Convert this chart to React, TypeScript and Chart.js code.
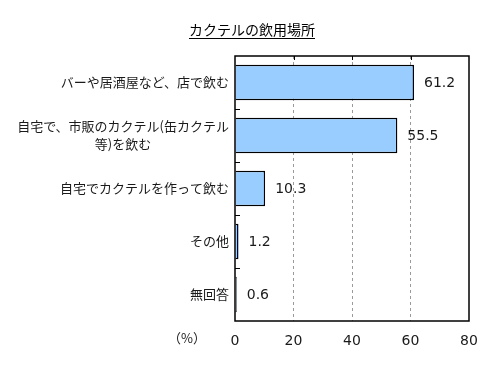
import React, { useEffect, useRef } from "react";
import { Chart, registerables } from "chart.js";

Chart.register(...registerables);

const TITLE = "カクテルの飲用場所";
const CATEGORIES: string[][] = [
  ["バーや居酒屋など、店で飲む"],
  ["自宅で、市販のカクテル(缶カクテル", "等)を飲む"],
  ["自宅でカクテルを作って飲む"],
  ["その他"],
  ["無回答"],
];
const VALUES = [61.2, 55.5, 10.3, 1.2, 0.6];
const VALUE_LABELS = ["61.2", "55.5", "10.3", "1.2", "0.6"];
const X_MIN = 0;
const X_MAX = 80;
const X_STEP = 20;
const UNIT_LABEL = "（%）";

const JP = '"Noto Sans CJK JP", sans-serif';
const NUM = '"DejaVu Sans", Verdana, sans-serif';

const decorPlugin = {
  id: "decor",
  afterDraw(chart: any) {
    const { ctx, chartArea: a, scales } = chart;
    const x = scales.x;
    const y = scales.y;
    ctx.save();

    // frame
    ctx.strokeStyle = "#000";
    ctx.lineWidth = 1.5;
    ctx.strokeRect(a.left, a.top, a.right - a.left, a.bottom - a.top);

    // inner top tick marks
    ctx.lineWidth = 1;
    for (let v = X_MIN + X_STEP; v < X_MAX; v += X_STEP) {
      const px = Math.round(x.getPixelForValue(v)) + 0.5;
      ctx.beginPath();
      ctx.moveTo(px, a.top);
      ctx.lineTo(px, a.top + 4);
      ctx.stroke();
    }
    // inner left tick marks between categories
    for (let i = 0; i < CATEGORIES.length - 1; i++) {
      const py = Math.round((y.getPixelForValue(i) + y.getPixelForValue(i + 1)) / 2) + 0.5;
      ctx.beginPath();
      ctx.moveTo(a.left, py);
      ctx.lineTo(a.left + 5, py);
      ctx.stroke();
    }

    // category labels
    ctx.font = `13px ${JP}`;
    ctx.fillStyle = "#1a1a1a";
    ctx.textBaseline = "middle";
    ctx.textAlign = "center";
    const right = a.left - 6;
    const lh = 18;
    CATEGORIES.forEach((lines, i) => {
      const cy = y.getPixelForValue(i);
      const w = Math.max(...lines.map((l) => ctx.measureText(l).width));
      const cx = right - w / 2;
      lines.forEach((l, j) => {
        ctx.fillText(l, cx, cy + (j - (lines.length - 1) / 2) * lh);
      });
    });

    // value labels
    ctx.font = `14px ${NUM}`;
    ctx.textAlign = "left";
    VALUES.forEach((v, i) => {
      ctx.fillText(VALUE_LABELS[i], x.getPixelForValue(v) + 10, y.getPixelForValue(i) + 1);
    });

    // unit label
    ctx.font = `13px ${JP}`;
    ctx.textAlign = "center";
    ctx.fillText(UNIT_LABEL, 187, 338);

    // title with underline
    ctx.font = `14px ${JP}`;
    ctx.fillStyle = "#000";
    ctx.textAlign = "center";
    const tx = 252;
    const ty = 30;
    ctx.fillText(TITLE, tx, ty);
    const tw = ctx.measureText(TITLE).width;
    ctx.beginPath();
    ctx.lineWidth = 1;
    ctx.moveTo(tx - tw / 2, 38.5);
    ctx.lineTo(tx + tw / 2, 38.5);
    ctx.stroke();

    ctx.restore();
  },
};

export default function App() {
  const ref = useRef<HTMLCanvasElement | null>(null);

  useEffect(() => {
    if (!ref.current) return;
    const chart = new Chart(ref.current, {
      type: "bar",
      data: {
        labels: CATEGORIES,
        datasets: [
          {
            data: VALUES,
            backgroundColor: "#99CCFF",
            borderColor: "#000",
            borderWidth: 1.5,
            barPercentage: 0.67,
            categoryPercentage: 1,
          },
        ],
      },
      options: {
        indexAxis: "y",
        responsive: false,
        animation: false,
        layout: { padding: { top: 56, right: 31, bottom: 0, left: 0 } },
        plugins: {
          legend: { display: false },
          tooltip: { enabled: false },
          title: { display: false },
        },
        scales: {
          x: {
            type: "linear",
            min: X_MIN,
            max: X_MAX,
            ticks: {
              stepSize: X_STEP,
              color: "#1a1a1a",
              font: { family: NUM, size: 14 },
              padding: 12,
            },
            grid: {
              drawTicks: false,
              lineWidth: 1,
              color: (c: any) =>
                c.tick && (c.tick.value === X_MIN || c.tick.value === X_MAX)
                  ? "rgba(0,0,0,0)"
                  : "#9a9a9a",
            },
            border: { display: false, dash: [3, 3] },
            afterFit: (s: any) => {
              s.height = 54;
            },
          },
          y: {
            type: "category",
            ticks: { display: false },
            grid: { display: false, drawTicks: false },
            border: { display: false },
            afterFit: (s: any) => {
              s.width = 235;
            },
          },
        },
      },
      plugins: [decorPlugin],
    } as any);
    return () => chart.destroy();
  }, []);

  return (
    <div style={{ position: "absolute", left: 0, top: 0, width: 500, height: 375, background: "#fff" }}>
      <canvas ref={ref} width={500} height={375} style={{ display: "block" }} />
    </div>
  );
}
